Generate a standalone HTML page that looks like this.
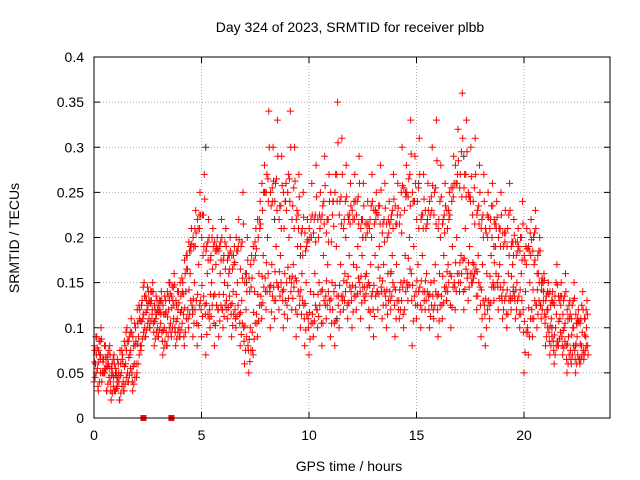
<!DOCTYPE html>
<html><head><meta charset="utf-8"><style>
body{margin:0;background:#fff}
svg{display:block;font-family:"Liberation Sans",sans-serif}
</style></head><body>
<svg id="chart" width="640" height="480">
<text x="350" y="32" text-anchor="middle" font-size="14">Day 324 of 2023, SRMTID for receiver plbb</text>
<text x="349" y="471" text-anchor="middle" font-size="14">GPS time / hours</text>
<text transform="translate(19,238) rotate(-90)" text-anchor="middle" font-size="14">SRMTID / TECUs</text>
<g id="grid"></g><g id="ticks"></g><g id="pts"></g>
<rect x="94" y="57" width="516" height="361" fill="none" stroke="#000"/>
</svg>
<script>
const hours=[];for(let i=0;i<115;i++)hours.push(+(i*0.2).toFixed(1));
const lowVals=[0.04,0.03,0.05,0.03,0.02,0.03,0.02,0.03,0.04,0.03,
0.05,0.08,0.09,0.10,0.08,0.09,0.07,0.08,0.09,0.08,
0.09,0.08,0.10,0.09,0.08,0.09,0.07,0.10,0.08,0.09,
0.10,0.11,0.09,0.10,0.08,0.06,0.05,0.07,0.09,0.11,
0.12,0.10,0.11,0.12,0.10,0.11,0.12,0.09,0.10,0.08,
0.07,0.09,0.10,0.08,0.11,0.09,0.08,0.10,0.12,0.11,
0.10,0.12,0.11,0.13,0.10,0.09,0.12,0.11,0.10,0.12,
0.09,0.11,0.10,0.13,0.08,0.11,0.10,0.12,0.10,0.11,
0.09,0.11,0.13,0.10,0.12,0.14,0.12,0.13,0.15,0.12,
0.09,0.08,0.11,0.13,0.12,0.11,0.10,0.12,0.11,0.10,
0.05,0.07,0.09,0.10,0.11,0.08,0.07,0.06,0.08,0.07,
0.05,0.06,0.05,0.06,0.07];
const midVals=[0.06,0.07,0.05,0.06,0.05,0.04,0.05,0.06,0.07,0.06,
0.09,0.11,0.12,0.13,0.11,0.12,0.10,0.12,0.13,0.11,
0.12,0.14,0.16,0.15,0.17,0.18,0.16,0.15,0.17,0.16,
0.15,0.16,0.14,0.15,0.13,0.12,0.10,0.14,0.16,0.18,
0.20,0.17,0.19,0.18,0.16,0.20,0.17,0.19,0.16,0.15,
0.14,0.16,0.15,0.18,0.17,0.15,0.19,0.17,0.16,0.18,
0.17,0.19,0.18,0.16,0.17,0.18,0.19,0.17,0.16,0.18,
0.17,0.15,0.18,0.20,0.19,0.17,0.18,0.16,0.15,0.17,
0.16,0.18,0.17,0.19,0.20,0.18,0.21,0.19,0.17,0.18,
0.17,0.16,0.18,0.19,0.17,0.15,0.16,0.17,0.15,0.16,
0.14,0.15,0.17,0.16,0.15,0.12,0.11,0.10,0.11,0.10,
0.09,0.10,0.09,0.08,0.09];
const highVals=[0.09,0.10,0.08,0.08,0.07,0.06,0.07,0.10,0.11,0.10,
0.12,0.15,0.14,0.15,0.13,0.14,0.13,0.15,0.16,0.14,
0.15,0.18,0.21,0.23,0.25,0.27,0.22,0.21,0.20,0.22,
0.21,0.20,0.19,0.22,0.25,0.20,0.18,0.21,0.24,0.28,
0.34,0.30,0.33,0.29,0.26,0.34,0.30,0.27,0.25,0.22,
0.26,0.28,0.25,0.29,0.27,0.24,0.35,0.31,0.28,0.26,
0.27,0.29,0.26,0.24,0.27,0.25,0.28,0.26,0.24,0.27,
0.26,0.30,0.28,0.33,0.29,0.31,0.27,0.26,0.30,0.33,
0.28,0.26,0.25,0.29,0.32,0.36,0.33,0.30,0.31,0.28,
0.27,0.25,0.26,0.24,0.25,0.23,0.26,0.22,0.21,0.24,
0.21,0.22,0.23,0.20,0.16,0.15,0.14,0.17,0.15,0.16,
0.13,0.15,0.12,0.14,0.13];
const greyHours=[0.3,1.0,4.6,5.2,7.1,8.4,9.6,11.3,12.5,13.8,15.1,16.4,17.2,18.6,19.5,21.3,22.4];
const greyVals=[0.07,0.05,0.12,0.30,0.15,0.22,0.18,0.11,0.20,0.16,0.26,0.13,0.29,0.19,0.14,0.10,0.08];
const zeroHours=[2.3,3.6];
const xTicks=[0,5,10,15,20];
const yTicks=[0,0.05,0.1,0.15,0.2,0.25,0.3,0.35,0.4];
const X0=94,X1=610,Y0=418,Y1=57;
const xs=h=>X0+h/24*(X1-X0), ys=v=>Y0-v/0.4*(Y0-Y1);
const NS="http://www.w3.org/2000/svg";
function mk(t,a,p){const e=document.createElementNS(NS,t);for(const k in a)e.setAttribute(k,a[k]);p.appendChild(e);return e;}
const grid=document.getElementById('grid'),ticks=document.getElementById('ticks'),pts=document.getElementById('pts');
xTicks.forEach(t=>{const x=xs(t);
 if(t>0){const g=mk('line',{x1:x,x2:x,y1:Y0,y2:Y1,stroke:'#aaa','stroke-dasharray':'1,2'},grid);
 
 }
 mk('line',{x1:x,x2:x,y1:Y0,y2:Y0-6,stroke:'#000'},ticks);mk('line',{x1:x,x2:x,y1:Y1,y2:Y1+6,stroke:'#000'},ticks);
 const l=mk('text',{x:x,y:Y0+22,'text-anchor':'middle','font-size':14},ticks);l.textContent=t;
 
 });
yTicks.forEach(t=>{const y=ys(t);
 if(t>0&&t<0.4){const g=mk('line',{x1:X0,x2:X1,y1:y,y2:y,stroke:'#aaa','stroke-dasharray':'1,2'},grid);
 
 }
 mk('line',{x1:X0,x2:X0+6,y1:y,y2:y,stroke:'#000'},ticks);mk('line',{x1:X1,x2:X1-6,y1:y,y2:y,stroke:'#000'},ticks);
 const l=mk('text',{x:X0-10,y:y+5,'text-anchor':'end','font-size':14},ticks);l.textContent=t;
 
 });
function plus(h,v,c){const x=xs(h),y=ys(v);
 const p=mk('path',{d:`M${x-3.5},${y}H${x+3.5}M${x},${y-3.5}V${y+3.5}`,stroke:c,'stroke-width':1},pts);
 
 }
greyHours.forEach((h,i)=>plus(h,greyVals[i],'#333'));
const n=hours.length;
hours.forEach((h,i)=>{
 const L=lowVals[i],M=midVals[i],H=highVals[i];
 const j=Math.min(i+1,n-1);
 const L2=lowVals[j],M2=midVals[j],H2=highVals[j];
 plus(h,L,'#f00');plus(h+0.07,M,'#f00');plus(h+0.13,H,'#f00');
 plus(h+0.1,(L+M)/2,'#f00');plus(h+0.04,(M+H)/2,'#f00');
 plus(h+0.16,(L+M2)/2,'#f00');plus(h+0.02,(M+L)/2+0.012,'#f00');
 plus(h+0.11,(M+H2)/2-0.01,'#f00');plus(h+0.18,(L2+M)/2-0.01,'#f00');
 plus(h+0.05,(3*L+M)/4,'#f00');plus(h+0.15,(M+3*H)/4-0.005,'#f00');
 plus(h+0.09,(H+M2)/2+0.01,'#f00');plus(h+0.01,(M+H2)/2,'#f00');
});
zeroHours.forEach(h=>{const r=mk('rect',{x:xs(h)-3,y:Y0-3,width:6,height:6,fill:'#f00'},pts);
 
 });
</script>
</body></html>
